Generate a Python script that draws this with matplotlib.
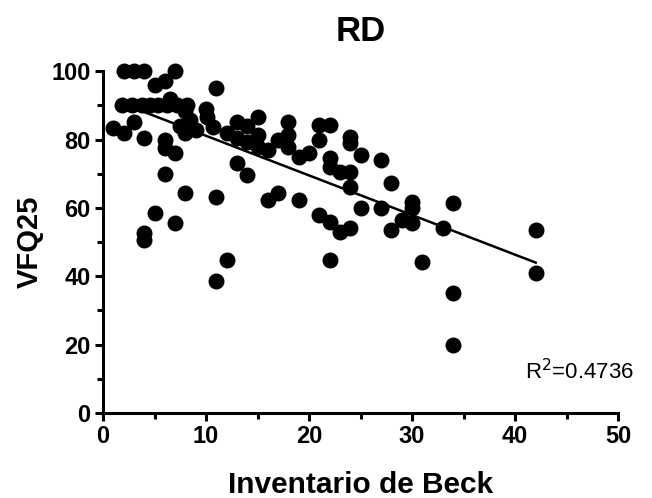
import numpy as np
import matplotlib.pyplot as plt
from matplotlib.ticker import MultipleLocator

plt.rcParams['font.family'] = ['Liberation Sans', 'DejaVu Sans']

# Beck depression inventory score vs VFQ25 (RD group)
beck = [2, 3, 4, 7, 6, 5, 11,
        1.8, 2.8, 3.8, 4.6, 5.3, 6.2, 7.2, 8.2, 6.5,
        8, 8.4, 7.5, 9, 8, 10, 10.1,
        1, 2, 3, 4, 6, 6, 7, 6,
        10.7, 12, 13, 14, 15, 15, 13, 15, 14, 18, 17, 18, 18, 19, 16, 13, 14,
        21, 22, 21, 24, 24, 20, 22, 22, 23, 24, 25, 27, 24, 28,
        19, 21, 22, 23, 24, 25, 27, 28, 29, 30, 30, 30, 33, 34, 22, 31, 34, 34, 42, 42,
        8, 11, 16, 17, 5, 7, 4, 4, 12, 11]
vfq25 = [100, 100, 100, 100, 97, 96, 95,
         90, 90, 90, 90, 90, 90, 90, 90, 92,
         88.5, 85.7, 84, 82.7, 82, 89, 86.5,
         83.5, 82, 85, 80.5, 80, 77.5, 76, 70,
         83.6, 82, 80.4, 79.2, 81.3, 77.8, 85, 86.5, 84, 85, 79.8, 81.3, 77.8, 75, 77, 73, 69.6,
         84.2, 84.2, 79.8, 80.7, 79, 76, 74.6, 72, 70.5, 70.5, 75.4, 74, 66, 67.3,
         62.3, 57.9, 55.8, 53, 54, 60, 60, 53.5, 56.4, 61.7, 60, 55.5, 54, 61.4, 44.7, 44.2, 35, 20, 53.5, 41,
         64.3, 63.2, 62.3, 64.3, 58.5, 55.7, 52.6, 50.6, 44.7, 38.7]

# regression line
slope = -1.16
intercept = 92.7
line_x = [1.5, 42]
r2_text = 'R$^2$=0.4736'

fig = plt.figure(figsize=(6.52, 4.98), dpi=100)
ax = fig.add_axes([0.158, 0.171, 0.79, 0.686])

ax.scatter(beck, vfq25, s=110, color='black', zorder=3, clip_on=False)
lx = np.array(line_x)
ax.plot(lx, slope * lx + intercept, color='black', linewidth=1.8, zorder=2)

ax.set_xlim(0, 50)
ax.set_ylim(0, 100)
ax.xaxis.set_major_locator(MultipleLocator(10))
ax.xaxis.set_minor_locator(MultipleLocator(5))
ax.yaxis.set_major_locator(MultipleLocator(20))
ax.yaxis.set_minor_locator(MultipleLocator(10))

for side in ['top', 'right']:
    ax.spines[side].set_visible(False)
for side in ['left', 'bottom']:
    ax.spines[side].set_linewidth(2.2)
ax.tick_params(which='major', length=6, width=2.2, labelsize=17, pad=3)
ax.tick_params(which='minor', length=4, width=2.2)
for lab in ax.get_xticklabels() + ax.get_yticklabels():
    lab.set_fontweight('bold')

ax.set_title('RD', fontsize=25, fontweight='bold', pad=22)
ax.set_xlabel('Inventario de Beck', fontsize=21.5, fontweight='bold', labelpad=16)
ax.set_ylabel('VFQ25', fontsize=21, fontweight='bold', labelpad=5)
ax.text(41, 12, r2_text, fontsize=16, va='center', ha='left', clip_on=False)

fig.savefig('out.png', dpi=100)
